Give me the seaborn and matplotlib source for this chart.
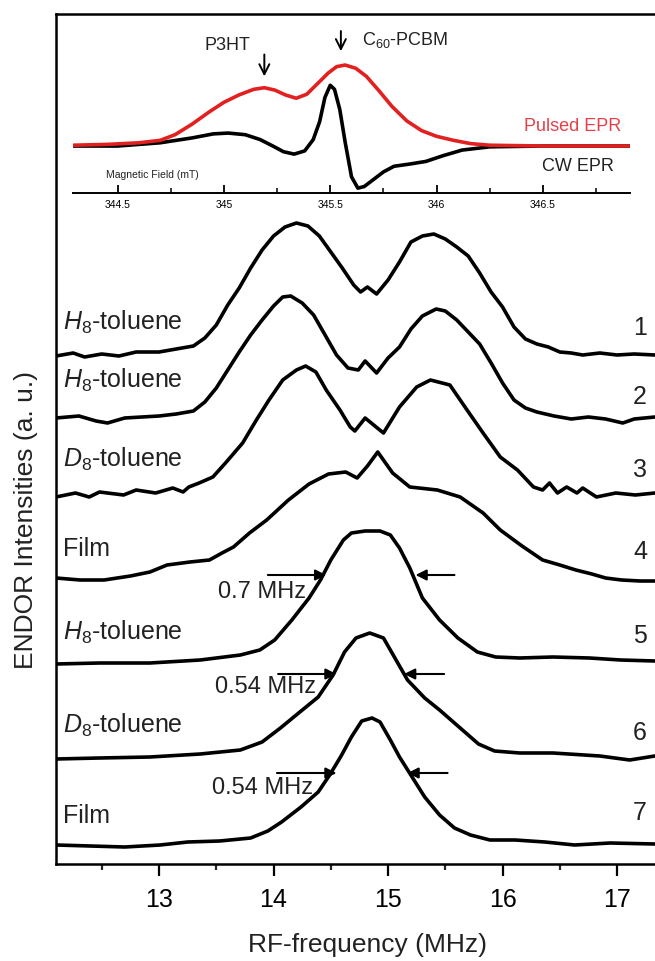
import numpy as np
import seaborn as sns
import matplotlib.pyplot as plt
from matplotlib.ticker import MultipleLocator

############################
# 1. Data
############################

# ENDOR traces: RF frequency (MHz) and intensity above each trace's own baseline (a.u.)
freq_1 = [12.10, 12.25, 12.35, 12.50, 12.65, 12.80, 13.00, 13.20, 13.30, 13.40, 13.50, 13.60,
          13.70, 13.80, 13.90, 14.00, 14.10, 14.20, 14.30, 14.40, 14.50, 14.60, 14.70, 14.76,
          14.82, 14.90, 15.00, 15.10, 15.20, 15.30, 15.40, 15.50, 15.60, 15.70, 15.80, 15.90,
          16.00, 16.10, 16.20, 16.30, 16.40, 16.50, 16.60, 16.70, 16.85, 17.00, 17.15, 17.33]
endor_1 = [-0.01, 0.02, -0.02, 0.01, -0.01, 0.03, 0.03, 0.07, 0.09, 0.17, 0.30, 0.50,
           0.67, 0.87, 1.05, 1.19, 1.28, 1.32, 1.29, 1.19, 1.03, 0.87, 0.70, 0.63,
           0.68, 0.61, 0.75, 0.93, 1.13, 1.19, 1.21, 1.16, 1.08, 0.99, 0.82, 0.63,
           0.48, 0.28, 0.16, 0.11, 0.08, 0.03, 0.02, 0.00, 0.02, 0.00, 0.01, 0.00]

freq_2 = [12.10, 12.30, 12.45, 12.55, 12.70, 12.85, 13.00, 13.15, 13.30, 13.40, 13.50, 13.60,
          13.70, 13.80, 13.90, 14.00, 14.08, 14.15, 14.25, 14.35, 14.45, 14.55, 14.65, 14.74,
          14.80, 14.90, 15.00, 15.10, 15.20, 15.30, 15.42, 15.50, 15.60, 15.70, 15.80, 15.90,
          16.00, 16.10, 16.20, 16.30, 16.45, 16.60, 16.75, 16.90, 17.05, 17.15, 17.33]
endor_2 = [0.00, 0.02, -0.03, -0.05, 0.00, 0.01, 0.02, 0.04, 0.07, 0.16, 0.30, 0.48,
           0.66, 0.83, 0.98, 1.12, 1.21, 1.22, 1.15, 1.03, 0.83, 0.63, 0.50, 0.48,
           0.57, 0.45, 0.60, 0.71, 0.89, 1.02, 1.09, 1.07, 0.98, 0.86, 0.74, 0.55,
           0.35, 0.18, 0.10, 0.06, 0.02, -0.01, 0.01, -0.01, -0.05, -0.01, 0.01]

freq_3 = [12.10, 12.27, 12.39, 12.48, 12.69, 12.80, 12.97, 13.12, 13.21, 13.26, 13.35, 13.47,
          13.58, 13.73, 13.85, 13.96, 14.08, 14.20, 14.28, 14.37, 14.46, 14.58, 14.67, 14.71,
          14.80, 14.96, 15.10, 15.25, 15.37, 15.54, 15.69, 15.83, 15.98, 16.13, 16.27, 16.35,
          16.41, 16.48, 16.56, 16.65, 16.70, 16.82, 16.99, 17.16, 17.33]
endor_3 = [-0.02, 0.02, -0.02, 0.03, 0.00, 0.05, 0.02, 0.07, 0.03, 0.08, 0.12, 0.18,
           0.32, 0.52, 0.75, 0.95, 1.15, 1.25, 1.29, 1.23, 1.05, 0.85, 0.68, 0.64,
           0.77, 0.62, 0.88, 1.08, 1.15, 1.10, 0.85, 0.62, 0.38, 0.25, 0.08, 0.05,
           0.12, 0.02, 0.08, 0.02, 0.07, -0.02, 0.02, 0.00, 0.02]

freq_4 = [12.10, 12.31, 12.52, 12.75, 12.92, 13.07, 13.27, 13.44, 13.55, 13.65, 13.79, 13.94,
          14.13, 14.31, 14.48, 14.63, 14.73, 14.82, 14.91, 15.04, 15.19, 15.43, 15.63, 15.83,
          15.98, 16.17, 16.35, 16.50, 16.64, 16.78, 16.90, 17.04, 17.20, 17.33]
endor_4 = [0.00, -0.02, -0.02, 0.02, 0.06, 0.13, 0.16, 0.18, 0.25, 0.31, 0.45, 0.58,
           0.78, 0.94, 1.04, 1.06, 1.00, 1.12, 1.26, 1.05, 0.91, 0.88, 0.81, 0.65,
           0.48, 0.32, 0.18, 0.13, 0.08, 0.04, 0.00, -0.02, -0.03, -0.03]

freq_5 = [12.10, 12.48, 12.92, 13.36, 13.71, 13.88, 14.01, 14.16, 14.31, 14.41, 14.50, 14.61,
          14.68, 14.80, 14.93, 15.02, 15.10, 15.19, 15.30, 15.45, 15.61, 15.78, 15.94, 16.15,
          16.44, 16.76, 17.03, 17.33]
endor_5 = [-0.02, -0.01, -0.01, 0.02, 0.07, 0.12, 0.22, 0.42, 0.64, 0.82, 1.02, 1.22,
           1.29, 1.31, 1.31, 1.27, 1.14, 0.94, 0.64, 0.42, 0.24, 0.10, 0.05, 0.04,
           0.05, 0.04, 0.02, 0.01]

freq_6 = [12.10, 12.48, 12.92, 13.36, 13.71, 13.90, 14.06, 14.23, 14.39, 14.52, 14.62, 14.72,
          14.84, 14.96, 15.06, 15.17, 15.32, 15.45, 15.63, 15.79, 15.93, 16.15, 16.44, 16.85,
          17.11, 17.33]
endor_6 = [-0.02, -0.01, 0.00, 0.03, 0.07, 0.15, 0.29, 0.45, 0.60, 0.82, 1.05, 1.19,
           1.24, 1.19, 0.99, 0.77, 0.59, 0.47, 0.29, 0.13, 0.06, 0.04, 0.04, 0.01,
           -0.03, 0.01]

freq_7 = [12.10, 12.40, 12.70, 13.01, 13.25, 13.53, 13.80, 13.95, 14.07, 14.24, 14.39, 14.49,
          14.59, 14.68, 14.77, 14.86, 14.93, 15.02, 15.10, 15.21, 15.32, 15.45, 15.58, 15.72,
          15.89, 16.11, 16.37, 16.63, 16.94, 17.33]
endor_7 = [0.00, -0.01, -0.02, 0.00, 0.03, 0.04, 0.07, 0.14, 0.23, 0.38, 0.53, 0.70,
           0.89, 1.08, 1.24, 1.27, 1.23, 1.05, 0.88, 0.68, 0.48, 0.30, 0.17, 0.10,
           0.05, 0.05, 0.03, 0.00, 0.02, 0.01]

freqs = [freq_1, freq_2, freq_3, freq_4, freq_5, freq_6, freq_7]
endors = [endor_1, endor_2, endor_3, endor_4, endor_5, endor_6, endor_7]

# vertical stacking offset of each trace
offsets = [5.09, 4.46, 3.69, 2.86, 2.02, 1.07, 0.19]

sample_labels = [r"$\mathit{H}_{\mathit{8}}$-toluene", r"$\mathit{H}_{\mathit{8}}$-toluene",
                 r"$\mathit{D}_{\mathit{8}}$-toluene", "Film",
                 r"$\mathit{H}_{\mathit{8}}$-toluene", r"$\mathit{D}_{\mathit{8}}$-toluene", "Film"]
label_y = [5.34, 4.76, 3.97, 3.08, 2.24, 1.31, 0.41]
trace_numbers = ["1", "2", "3", "4", "5", "6", "7"]
number_y = [5.36, 4.67, 3.94, 3.12, 2.28, 1.31, 0.51]

# linewidth markers (arrow tail, arrow head) and text
fwhm_text = ["0.7 MHz", "0.54 MHz", "0.54 MHz"]
fwhm_y = [2.89, 1.90, 0.91]
fwhm_left = [(13.95, 14.46), (14.04, 14.55), (14.03, 14.55)]
fwhm_right = [(15.58, 15.24), (15.49, 15.14), (15.52, 15.17)]
fwhm_text_pos = [(13.90, 2.72), (13.93, 1.77), (13.90, 0.76)]

# EPR inset: magnetic field (mT) and normalised intensity
field_pulsed = [344.29, 344.45, 344.60, 344.70, 344.77, 344.85, 344.93, 345.00, 345.07, 345.14,
                345.19, 345.24, 345.29, 345.34, 345.39, 345.44, 345.49, 345.53, 345.57, 345.62,
                345.67, 345.73, 345.79, 345.86, 345.93, 346.00, 346.08, 346.16, 346.25, 346.50,
                346.91]
pulsed_epr = [0.01, 0.02, 0.04, 0.07, 0.14, 0.27, 0.42, 0.54, 0.63, 0.70,
              0.72, 0.69, 0.63, 0.59, 0.64, 0.77, 0.90, 0.98, 1.00, 0.96,
              0.86, 0.68, 0.49, 0.31, 0.19, 0.12, 0.07, 0.03, 0.01, 0.00,
              0.00]
field_cw = [344.29, 344.50, 344.70, 344.85, 344.95, 345.02, 345.10, 345.17, 345.23, 345.28,
            345.33, 345.38, 345.42, 345.45, 345.475, 345.50, 345.52, 345.545, 345.57, 345.60,
            345.63, 345.66, 345.70, 345.75, 345.80, 345.88, 345.95, 346.03, 346.12, 346.25,
            346.50, 346.91]
cw_epr = [0.00, 0.00, 0.04, 0.10, 0.15, 0.16, 0.14, 0.08, 0.00, -0.07,
          -0.10, -0.06, 0.08, 0.30, 0.60, 0.75, 0.70, 0.45, 0.05, -0.38,
          -0.52, -0.50, -0.42, -0.32, -0.25, -0.22, -0.19, -0.12, -0.05, -0.01,
          0.00, 0.00]
inset_ticks = [344.5, 345.0, 345.5, 346.0, 346.5]
inset_ticklabels = ["344.5", "345", "345.5", "346", "346.5"]

############################
# 2. Style
############################

sns.set_theme(style="white")
plt.rcParams["font.family"] = ["Liberation Sans", "DejaVu Sans"]
plt.rcParams["mathtext.fontset"] = "custom"
plt.rcParams["mathtext.rm"] = "Liberation Sans"
plt.rcParams["mathtext.it"] = "Liberation Sans:italic"

W, H = 655, 961
fig = plt.figure(figsize=(W / 100, H / 100), dpi=100)

############################
# 3. Main ENDOR panel
############################

ax = fig.add_axes([56 / W, 97 / H, 624 / W, 850 / H])
for f, v, off in zip(freqs, endors, offsets):
    sns.lineplot(x=f, y=np.asarray(v) + off, ax=ax, color="black", linewidth=2.6,
                 sort=False, estimator=None, solid_joinstyle="round", solid_capstyle="round")

ax.set_xlim(12.1, 12.1 + 624 / 114.5)
ax.set_ylim(0, 8.5)
ax.set_yticks([])
ax.xaxis.set_major_locator(MultipleLocator(1))
ax.xaxis.set_minor_locator(MultipleLocator(0.5))
ax.tick_params(axis="x", which="major", direction="out", length=8.5, width=1.6,
               labelsize=18, pad=9, bottom=True, colors="black")
ax.tick_params(axis="x", which="minor", direction="out", length=4.5, width=1.6, bottom=True)
for sp in ax.spines.values():
    sp.set_linewidth(1.8)
    sp.set_color("black")
ax.set_xlabel("RF-frequency (MHz)", fontsize=19, labelpad=15, color="#222222")
fig.text(26 / W, 1 - 520 / H, "ENDOR Intensities (a. u.)", rotation=90,
         ha="center", va="center", fontsize=19, color="#222222")

for lab, ly in zip(sample_labels, label_y):
    ax.text(12.16, ly, lab, fontsize=18, ha="left", va="baseline", color="#222222")
for num, ny in zip(trace_numbers, number_y):
    ax.text(17.2, ny, num, fontsize=18, ha="center", va="center", color="#222222")

arrow_kw = dict(arrowstyle="-|>", color="black", lw=1.5, mutation_scale=16,
                shrinkA=0, shrinkB=0)
for txt, y, (l0, l1), (r0, r1), (tx, ty) in zip(fwhm_text, fwhm_y, fwhm_left,
                                                fwhm_right, fwhm_text_pos):
    ax.annotate("", xy=(l1, y), xytext=(l0, y), arrowprops=arrow_kw)
    ax.annotate("", xy=(r1, y), xytext=(r0, y), arrowprops=arrow_kw)
    ax.text(tx, ty, txt, fontsize=17, ha="center", va="center", color="#222222")

############################
# 4. EPR inset
############################

ax_in = fig.add_axes([73 / W, 1 - 193 / H, 557 / W, 173 / H])
ax_in.patch.set_visible(False)
sns.lineplot(x=field_cw, y=cw_epr, ax=ax_in, color="black", linewidth=2.6,
             sort=False, estimator=None, solid_joinstyle="round")
sns.lineplot(x=field_pulsed, y=pulsed_epr, ax=ax_in, color="#e32020", linewidth=2.6,
             sort=False, estimator=None, solid_joinstyle="round")
ax_in.set_xlim(344.29, 346.91)
ax_in.set_ylim(-0.58, 1.556)
ax_in.set_yticks([])
ax_in.set_xticks(inset_ticks)
ax_in.set_xticklabels(inset_ticklabels)
ax_in.xaxis.set_minor_locator(MultipleLocator(0.25))
ax_in.tick_params(axis="x", which="major", direction="in", length=6, width=1.3,
                  labelsize=7.5, pad=5, bottom=True, colors="black")
ax_in.tick_params(axis="x", which="minor", direction="in", length=3.5, width=1.3, bottom=True)
for side in ["top", "right", "left"]:
    ax_in.spines[side].set_visible(False)
ax_in.spines["bottom"].set_linewidth(1.4)
ax_in.spines["bottom"].set_color("black")

ax_in.text(344.444, -0.358, "Magnetic Field (mT)", fontsize=7.5, ha="left", va="center",
           color="#222222")
ax_in.text(346.87, 0.235, "Pulsed EPR", fontsize=13, ha="right", va="center", color="#e5404a")
ax_in.text(346.835, -0.247, "CW EPR", fontsize=13, ha="right", va="center", color="#222222")
ax_in.text(345.016, 1.247, "P3HT", fontsize=13, ha="center", va="center", color="#222222")
ax_in.text(345.65, 1.31, r"C$_{60}$-PCBM", fontsize=13, ha="left", va="center", color="#222222")
open_kw = dict(arrowstyle="->", color="black", lw=1.4, mutation_scale=18, shrinkA=0, shrinkB=0)
ax_in.annotate("", xy=(345.19, 0.86), xytext=(345.19, 1.13), arrowprops=open_kw)
ax_in.annotate("", xy=(345.55, 1.17), xytext=(345.55, 1.42), arrowprops=open_kw)

fig.savefig("out.png", dpi=100)
